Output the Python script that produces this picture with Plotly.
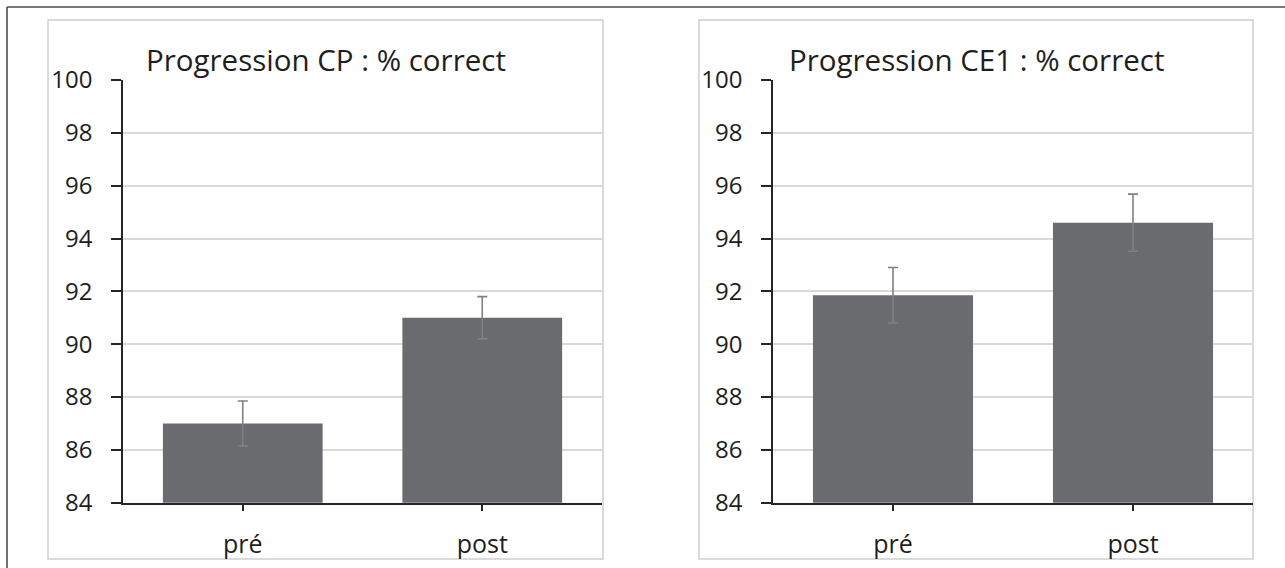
import plotly.graph_objects as go

categories = ["pré", "post"]
cp_values = [87.0, 91.0]
cp_errors = [0.85, 0.8]
ce1_values = [91.85, 94.6]
ce1_errors = [1.05, 1.08]
titles = ["Progression CP : % correct", "Progression CE1 : % correct"]
y_ticks = [84, 86, 88, 90, 92, 94, 96, 98, 100]

W, H = 1285, 568
FONT = "Open Sans"
BAR = "#6a6b6f"
ERR = "#808080"
GRID = "#d9d9d9"
AXIS = "#262626"
TXT = "#1e1e1e"

def px(x):
    return x / W

def py(y):
    return 1 - y / H

fig = go.Figure()

for i, (vals, errs) in enumerate([(cp_values, cp_errors), (ce1_values, ce1_errors)]):
    suffix = "" if i == 0 else str(i + 1)
    fig.add_trace(go.Bar(
        x=categories, y=vals, width=0.667,
        marker=dict(color=BAR, line=dict(width=0)),
        error_y=dict(type="data", array=errs, visible=True, color=ERR, thickness=1.6, width=5),
        xaxis="x" + suffix, yaxis="y" + suffix, showlegend=False,
    ))

plot_x = [(123, 602), (773, 1253)]
panel_x = [(48, 603), (699, 1253)]
y_top, y_bot = 80, 502.7

layout = dict(
    width=W, height=H, margin=dict(l=0, r=0, t=0, b=0, pad=0, autoexpand=False),
    paper_bgcolor="white", plot_bgcolor="white",
    font=dict(family=FONT, color=TXT, size=24),
    bargap=0.333,
)
for i in range(2):
    suffix = "" if i == 0 else str(i + 1)
    layout["xaxis" + suffix] = dict(
        domain=[px(plot_x[i][0]), px(plot_x[i][1])],
        anchor="y" + suffix, type="category", range=[-0.5, 1.5],
        showline=True, linecolor=AXIS, linewidth=1.5,
        ticks="outside", ticklen=7, tickwidth=1.5, tickcolor=AXIS,
        showgrid=False, zeroline=False, automargin=False,
        tickfont=dict(size=25, family=FONT, color=TXT),
        ticklabelstandoff=12,
    )
    layout["yaxis" + suffix] = dict(
        domain=[py(y_bot), py(y_top)],
        anchor="x" + suffix, range=[84, 100],
        tickmode="array", tickvals=y_ticks, ticktext=[str(v) for v in y_ticks],
        showline=True, linecolor=AXIS, linewidth=1.5,
        ticks="outside", ticklen=10, tickwidth=1.5, tickcolor=AXIS,
        showgrid=True, gridcolor=GRID, gridwidth=1.5, zeroline=False, automargin=False,
        tickfont=dict(size=24, family=FONT, color=TXT),
        ticklabelstandoff=14,
    )

shapes = []
shapes.append(dict(type="line", xref="paper", yref="paper", x0=px(7), x1=px(7), y0=0, y1=py(7),
                   line=dict(color="#4d4d4d", width=1.6)))
shapes.append(dict(type="line", xref="paper", yref="paper", x0=px(7), x1=1, y0=py(7), y1=py(7),
                   line=dict(color="#4d4d4d", width=1.6)))
for i in range(2):
    shapes.append(dict(type="rect", xref="paper", yref="paper",
                       x0=px(panel_x[i][0]), x1=px(panel_x[i][1]), y0=py(559), y1=py(20),
                       line=dict(color="#d0d0d0", width=1.5), layer="below"))
layout["shapes"] = shapes

annotations = []
for i in range(2):
    annotations.append(dict(
        text=titles[i], xref="paper", yref="paper",
        x=px((panel_x[i][0] + panel_x[i][1]) / 2), y=py(60),
        xanchor="center", yanchor="middle", showarrow=False,
        font=dict(size=29.5, family=FONT, color=TXT),
    ))
layout["annotations"] = annotations

fig.update_layout(**layout)
fig.write_html(
    "out.html",
    post_script="document.body.style.margin='0';document.body.style.padding='0';document.body.style.overflow='hidden';",
    config={"displayModeBar": False},
)
